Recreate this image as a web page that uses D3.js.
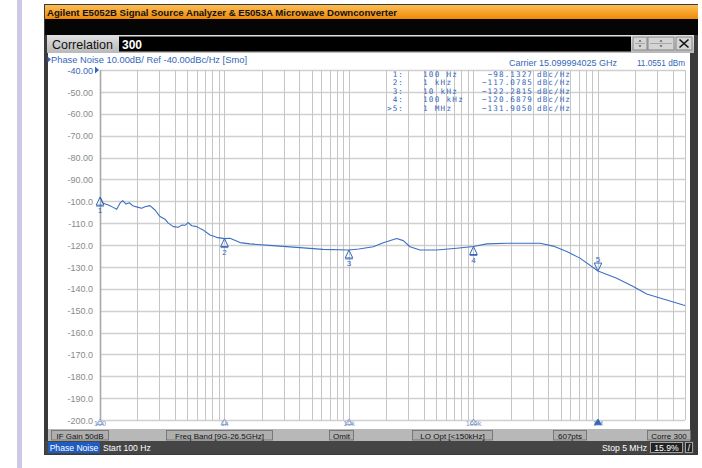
<!DOCTYPE html>
<html><head><meta charset="utf-8">
<script src="https://cdn.jsdelivr.net/npm/d3@7"></script>
<style>
body{margin:0;background:#fff;}
svg{display:block;font-family:"Liberation Sans",Arial,sans-serif;}
</style>
</head><body>
<svg id="c" width="702" height="468"></svg>
<script>
// ---------- data ----------
const freqHz = [100,106.3,116.6,127.9,136.2,144.7,152.2,161.8,171.9,185.1,203,216.3,229.9,252,276.6,303.4,332.7,353.8,388,425.6,453.2,481.7,512,545,598,672,765,865,1000,1107,1332,1603,2452,4038,6180,10000,12000,15670,18860,24150,27300,30900,37150,50600,73300,100000,127700,185000,342000,437500,561000,716600,1000000,1413000,1920000,2460000,3560000,4840000,5000000];
const phaseNoiseDbc = [-98.1,-100.9,-101.7,-102.8,-103.7,-100.9,-99.7,-101.3,-100.7,-102.2,-102.8,-103.2,-102.5,-102.0,-104.0,-107.0,-108.2,-110.0,-111.6,-111.9,-110.9,-111.0,-109.8,-111.2,-111.6,-113.1,-115.4,-116.5,-117.1,-116.9,-118.9,-119.5,-120.3,-121.2,-122.0,-122.3,-121.8,-120.8,-119.0,-117.0,-118.0,-120.8,-122.3,-122.3,-121.5,-120.7,-119.5,-119.2,-119.2,-120.5,-123.0,-126.0,-131.9,-135.2,-139.0,-142.4,-145.1,-147.4,-147.6];
const yTickValues = [-40,-50,-60,-70,-80,-90,-100,-110,-120,-130,-140,-150,-160,-170,-180,-190,-200];
const yTickLabels = ["-40.00","-50.00","-60.00","-70.00","-80.00","-90.00","-100.0","-110.0","-120.0","-130.0","-140.0","-150.0","-160.0","-170.0","-180.0","-190.0","-200.0"];
const xTickValues = [100,1000,10000,100000,1000000];
const xTickLabels = ["100","1k","10k","100k","1M"];
const markerIds = ["1","2","3","4","5"];
const markerTableIds = ["1:","2:","3:","4:",">5:"];
const markerFreqs = [100,1000,10000,100000,1000000];
const markerFreqLabels = ["100 Hz","1 kHz","10 kHz","100 kHz","1 MHz"];
const markerValues = [-98.1327,-117.0785,-122.2815,-120.6879,-131.9050];
const statusItems = ["IF Gain 50dB","Freq Band [9G-26.5GHz]","Omit","LO Opt [<150kHz]","607pts","Corre 300"];

// ---------- layout ----------
const svg = d3.select("#c");
const blue = "#3566b8";
const defs = svg.append("defs");
const og = defs.append("linearGradient").attr("id","og").attr("x1",0).attr("y1",0).attr("x2",0).attr("y2",1);
og.append("stop").attr("offset","0").attr("stop-color","#fbbd55");
og.append("stop").attr("offset","1").attr("stop-color","#f08a05");
const gg = defs.append("linearGradient").attr("id","gg").attr("x1",0).attr("y1",0).attr("x2",0).attr("y2",1);
gg.append("stop").attr("offset","0").attr("stop-color","#e2e2e2");
gg.append("stop").attr("offset","1").attr("stop-color","#b9b9b9");

// lavender strip
svg.append("rect").attr("x",17).attr("y",0).attr("width",5).attr("height",468).attr("fill","#cdc8e6");

// window frame
svg.append("rect").attr("x",44).attr("y",4).attr("width",654).attr("height",451).attr("fill","#3a3a3a");
svg.append("rect").attr("x",45).attr("y",5).attr("width",653).attr("height",14).attr("fill","url(#og)");
svg.append("text").attr("x",47).attr("y",15.5).attr("font-size",9).attr("font-weight","bold")
  .attr("fill","#111").attr("textLength",350).attr("lengthAdjust","spacingAndGlyphs")
  .text("Agilent E5052B Signal Source Analyzer & E5053A Microwave Downconverter");
svg.append("rect").attr("x",45).attr("y",19).attr("width",653).attr("height",16).attr("fill","#050505");
svg.append("rect").attr("x",47).attr("y",35).attr("width",647).attr("height",18).attr("fill","url(#gg)");
svg.append("text").attr("x",52).attr("y",49).attr("font-size",13).attr("fill","#111")
  .attr("textLength",61).attr("lengthAdjust","spacingAndGlyphs").text("Correlation");
svg.append("rect").attr("x",119).attr("y",36.5).attr("width",512).attr("height",15).attr("fill","#000");
svg.append("text").attr("x",122).attr("y",48.5).attr("font-size",12).attr("font-weight","bold").attr("fill","#fff").text("300");
// buttons
[[633,14],[648,26],[676,16]].forEach(([bx,bw],i)=>{
  svg.append("rect").attr("x",bx).attr("y",37).attr("width",bw).attr("height",13).attr("fill","#d4d4d4").attr("stroke","#777").attr("stroke-width",0.8);
  if(i<2){
    const cx = bx+bw/2;
    svg.append("path").attr("d",`M${cx-1.5},41.5 L${cx+1.5},41.5 L${cx},40 Z`).attr("fill","#333");
    svg.append("line").attr("x1",bx+2).attr("x2",bx+bw-2).attr("y1",43.5).attr("y2",43.5).attr("stroke","#888").attr("stroke-width",0.6);
    svg.append("path").attr("d",`M${cx-1.5},45.5 L${cx+1.5},45.5 L${cx},47 Z`).attr("fill","#333");
  } else {
    svg.append("path").attr("d",`M${bx+3.5},39.5 L${bx+bw-3.5},47.5 M${bx+bw-3.5},39.5 L${bx+3.5},47.5`).attr("stroke","#111").attr("stroke-width",1.6);
  }
});

// plot panel
svg.append("rect").attr("x",48).attr("y",53).attr("width",642).attr("height",376).attr("fill","#fff");

// scales
const x = d3.scaleLog().domain([100,5e6]).range([100,685]);
const y = d3.scaleLinear().domain([-40,-200]).range([70,420]);

// grid
const g = svg.append("g");
g.selectAll("line.h").data(yTickValues).join("line")
  .attr("x1",100).attr("x2",685).attr("y1",d=>Math.round(y(d))+0.5).attr("y2",d=>Math.round(y(d))+0.5)
  .attr("stroke","#d0d0d0").attr("stroke-width",1.5);
g.selectAll("line.v").data(x.ticks()).join("line")
  .attr("x1",d=>Math.round(x(d))+0.5).attr("x2",d=>Math.round(x(d))+0.5)
  .attr("y1",70).attr("y2",420).attr("stroke","#c6c6c6").attr("stroke-width",1);
g.append("line").attr("x1",100.5).attr("x2",100.5).attr("y1",70).attr("y2",420).attr("stroke","#a8a8a8").attr("stroke-width",1.6);

// y axis labels
const yAxis = d3.axisLeft(y).tickValues(yTickValues).tickSize(0).tickPadding(0)
  .tickFormat((d,i)=>yTickLabels[i]);
const ya = svg.append("g").attr("transform","translate(93,0)").call(yAxis);
ya.select(".domain").remove();
ya.selectAll("text").attr("font-size",9).attr("font-family","Liberation Sans, Arial, sans-serif")
  .attr("fill",(d,i)=>i===0?blue:"#8a8a8a").attr("dy","0.35em");
svg.append("path").attr("d","M95,66.5 L99,70 L95,73.5 Z").attr("fill",blue);

// header
svg.append("path").attr("d","M47.5,56.5 L51,59.5 L47.5,62.5 Z").attr("fill",blue);
svg.append("text").attr("x",51).attr("y",62.5).attr("font-size",8.6).attr("fill",blue)
  .attr("textLength",196).attr("lengthAdjust","spacingAndGlyphs")
  .text("Phase Noise 10.00dB/ Ref -40.00dBc/Hz [Smo]");
svg.append("text").attr("x",509).attr("y",66).attr("font-size",8.2).attr("fill",blue)
  .attr("textLength",108).attr("lengthAdjust","spacingAndGlyphs").text("Carrier 15.099994025 GHz");
svg.append("text").attr("x",685).attr("y",66).attr("font-size",8.2).attr("fill",blue).attr("text-anchor","end")
  .text("11.0551 dBm");

// marker table
const mono = "DejaVu Sans Mono, monospace";
const rowY = i => 76.5 + i*8.5;
const tbl = svg.append("g").attr("font-family",mono).attr("font-size",7.6).attr("fill",blue);
tbl.selectAll("text.id").data(markerTableIds).join("text").attr("x",404).attr("y",(d,i)=>rowY(i))
  .attr("text-anchor","end").attr("letter-spacing",1.1).text(d=>d);
tbl.selectAll("text.fq").data(markerFreqLabels).join("text").attr("x",423).attr("y",(d,i)=>rowY(i))
  .attr("letter-spacing",1.3).text(d=>d);
tbl.selectAll("text.val").data(markerValues).join("text").attr("x",533).attr("y",(d,i)=>rowY(i))
  .attr("text-anchor","end").attr("letter-spacing",1.1).text(d=>d.toFixed(4).replace("-","\u2212"));
tbl.selectAll("text.un").data(markerValues).join("text").attr("x",537).attr("y",(d,i)=>rowY(i))
  .attr("letter-spacing",1.1).text("dBc/Hz");

// trace
const pts = freqHz.map((f,i)=>[f,phaseNoiseDbc[i]]);
svg.append("path").datum(pts).attr("fill","none").attr("stroke","#3d6fc4").attr("stroke-width",1.1)
  .attr("stroke-linejoin","round")
  .attr("d",d3.line().x(d=>x(d[0])).y(d=>y(d[1])));

// markers on trace
markerIds.forEach((id,i)=>{
  const cx = x(markerFreqs[i]), cy = y(markerValues[i]);
  if(i<4){
    svg.append("path").attr("d",`M${cx},${cy} L${cx+3.8},${cy+8} L${cx-3.8},${cy+8} Z`)
      .attr("fill","none").attr("stroke",blue).attr("stroke-width",1);
    svg.append("line").attr("x1",cx-3.8).attr("x2",cx+3.8).attr("y1",cy+9).attr("y2",cy+9).attr("stroke",blue).attr("stroke-width",0.8);
    svg.append("text").attr("x",cx).attr("y",cy+16).attr("text-anchor","middle").attr("font-size",8).attr("fill",blue).text(id);
  } else {
    svg.append("text").attr("x",cx).attr("y",cy-9).attr("text-anchor","middle").attr("font-size",8).attr("fill",blue).text(id);
    svg.append("path").attr("d",`M${cx},${cy} L${cx+3.8},${cy-8} L${cx-3.8},${cy-8} Z`)
      .attr("fill","none").attr("stroke",blue).attr("stroke-width",1);
  }
});

// bottom x labels with marker icons
const xa = svg.append("g");
xTickValues.forEach((v,i)=>{
  const cx = x(v);
  xa.append("text").attr("x",cx).attr("y",426).attr("text-anchor","middle").attr("font-size",7.2)
    .attr("fill","#7d98c9").text(xTickLabels[i]);
  xa.append("path").attr("d",`M${cx},419 L${cx+3.5},424.5 L${cx-3.5},424.5 Z`)
    .attr("fill",i===4?blue:"none").attr("stroke",i===4?blue:"#7d98c9").attr("stroke-width",0.8);
});

// status bar
svg.append("rect").attr("x",48).attr("y",429).attr("width",642).attr("height",12).attr("fill","#b8b8b8");
const boxes = [[51,57],[166,106],[329,24],[412,80],[553,33],[647,43]];
boxes.forEach(([bx,bw],i)=>{
  svg.append("rect").attr("x",bx+0.5).attr("y",430.5).attr("width",bw).attr("height",9.5)
    .attr("fill","#aeaeae").attr("stroke","#6a6a6a").attr("stroke-width",0.8);
  svg.append("text").attr("x",bx+bw/2+0.5).attr("y",438.5).attr("text-anchor","middle").attr("font-size",8)
    .attr("fill","#111").text(statusItems[i]);
});

// bottom bar
svg.append("rect").attr("x",45).attr("y",441).attr("width",649).attr("height",13).attr("fill","#454545");
svg.append("rect").attr("x",48).attr("y",442).attr("width",52).attr("height",11).attr("fill","#1f5cc0");
svg.append("text").attr("x",74).attr("y",451).attr("text-anchor","middle").attr("font-size",8.6).attr("fill","#fff").text("Phase Noise");
svg.append("text").attr("x",103).attr("y",451).attr("font-size",8.6).attr("fill","#fff").text("Start 100 Hz");
svg.append("text").attr("x",647).attr("y",451).attr("text-anchor","end").attr("font-size",8.6).attr("fill","#fff").text("Stop 5 MHz");
svg.append("rect").attr("x",650.5).attr("y",442.5).attr("width",32).attr("height",10).attr("fill","#222").attr("stroke","#bbb").attr("stroke-width",0.8);
svg.append("text").attr("x",666.5).attr("y",451).attr("text-anchor","middle").attr("font-size",8.6).attr("fill","#fff").text("15.9%");
svg.append("rect").attr("x",685.5).attr("y",442.5).attr("width",7).attr("height",10).attr("fill","#222").attr("stroke","#bbb").attr("stroke-width",0.8);
svg.append("text").attr("x",689).attr("y",451).attr("text-anchor","middle").attr("font-size",8.6).attr("fill","#fff").text("/");
</script>
</body></html>
